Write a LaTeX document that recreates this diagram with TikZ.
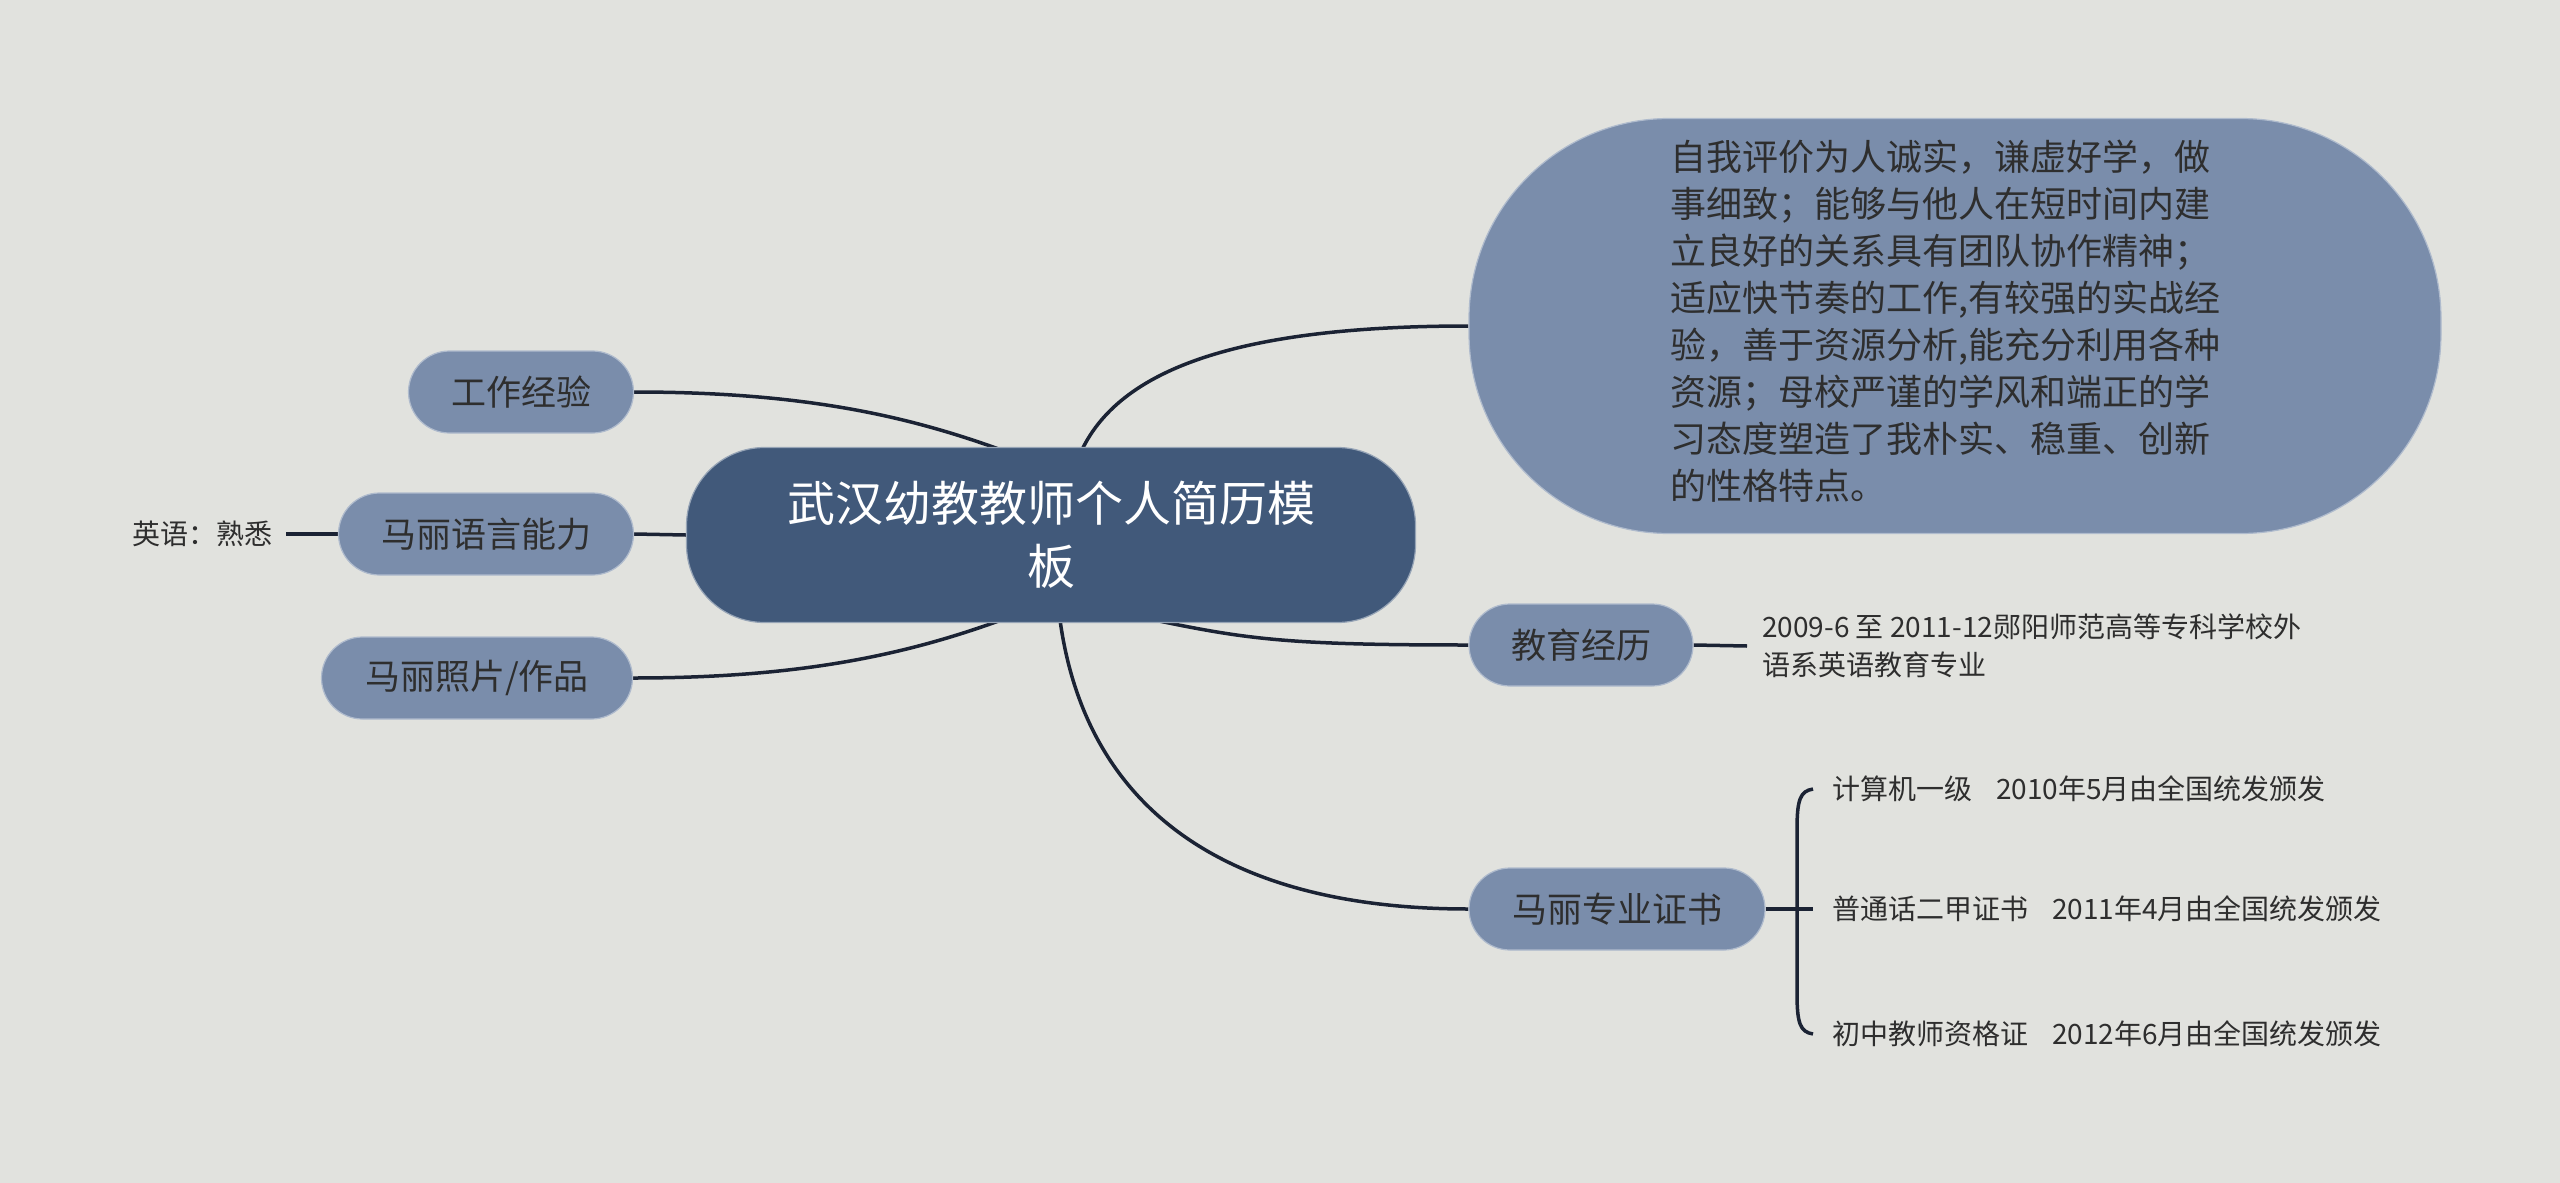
\documentclass[tikz,border=0pt]{standalone}
\usepackage{fontspec}
\setmainfont{Noto Sans CJK SC}
\usetikzlibrary{backgrounds,calc}
\definecolor{bgc}{HTML}{E1E2DE}
\definecolor{cfill}{HTML}{41597A}
\definecolor{bfill}{HTML}{7A8DAB}
\definecolor{tcol}{HTML}{2E2E2E}
\definecolor{lcol}{HTML}{1B2334}
\tikzset{
 central/.style={fill=cfill, draw=white!45!cfill, line width=1.2pt, rounded corners=78pt, minimum width=729pt, minimum height=175pt, text=white, align=center, font=\fontsize{48}{63}\selectfont, inner sep=0pt},
 branch/.style={fill=bfill, draw=white!40!bfill, line width=1.2pt, rounded corners=41pt, minimum height=82pt, text=tcol, font=\fontsize{35}{40}\selectfont, inner sep=0pt},
 bigbox/.style={fill=bfill, draw=white!40!bfill, line width=1.2pt, rounded corners=200pt, minimum width=972pt, minimum height=415pt, text=tcol, align=left, font=\fontsize{36}{47}\selectfont, inner sep=0pt},
 leaf/.style={text=tcol, font=\fontsize{28}{38}\selectfont, inner sep=0pt, anchor=west, align=left},
 conn/.style={draw=lcol, line width=3.5pt},
}
\begin{document}
\begin{tikzpicture}[x=1pt,y=-1pt]
\useasboundingbox (0,0) rectangle (2560,1183);
\begin{scope}[on background layer]
\fill[bgc] (0,0) rectangle (2560,1183);
\end{scope}

% nodes
\node[central] (c) at (1051,535) {武汉幼教教师个人简历模\\板};
\node[branch, minimum width=225pt] (w) at (521,392) {工作经验};
\node[branch, minimum width=295pt] (y) at (486,534) {马丽语言能力};
\node[branch, minimum width=311pt] (p) at (477,678) {马丽照片/作品};
\node[leaf, anchor=east] (en) at (273,534) {英语：熟悉};
\node[bigbox] (s) at (1955,326) {\hspace*{-20pt}\begin{tabular}{@{}l@{}}自我评价为人诚实，谦虚好学，做\\事细致；能够与他人在短时间内建\\立良好的关系具有团队协作精神；\\适应快节奏的工作,有较强的实战经\\验，善于资源分析,能充分利用各种\\资源；母校严谨的学风和端正的学\\习态度塑造了我朴实、稳重、创新\\的性格特点。\end{tabular}};
\node[branch, minimum width=224pt] (e) at (1581,645) {教育经历};
\node[leaf] (et) at (1762,646) {2009-6 至 2011-12郧阳师范高等专科学校外\\语系英语教育专业};
\node[branch, minimum width=296pt] (z) at (1617,909) {马丽专业证书};
\node[leaf] (z1) at (1832,789) {计算机一级\hspace{24pt}2010年5月由全国统发颁发};
\node[leaf] (z2) at (1832,909) {普通话二甲证书\hspace{24pt}2011年4月由全国统发颁发};
\node[leaf] (z3) at (1832,1034) {初中教师资格证\hspace{24pt}2012年6月由全国统发颁发};

\coordinate (bt) at (1813,789);
\coordinate (bj) at (1813,909);
\coordinate (bb) at (1813,1034);

% connectors
\begin{scope}[on background layer]
\draw[conn] (w.east) .. controls +(180,0) and +(-100,-38) .. ($(c.north)+(-31,10)$);
\draw[conn] (p.east) .. controls +(180,0) and +(-100,38) .. ($(c.south)+(-31,-10)$);
\draw[conn] ([xshift=13pt]en.east) -- (y.west);
\draw[conn] (y.east) -- (c.west);
\draw[conn] ($(c.north)+(24,20)$) .. controls +(30,-90) and +(-250,0) .. (s.west);
\draw[conn] ($(c.south)+(70,-10)$) .. controls +(120,25) and +(-200,0) .. (e.west);
\draw[conn] (e.east) -- ([xshift=-15pt]et.west);
\draw[conn] ($(c.south)+(7,-20)$) .. controls +(20,200) and +(-250,0) .. (z.west);
\draw[conn] (z.east) -- (bj);
\draw[conn] (bt) .. controls (1800,791) and (1797,800) .. (1797,830) -- (1797,993) .. controls (1797,1023) and (1800,1032) .. (bb);
\end{scope}
\end{tikzpicture}
\end{document}
